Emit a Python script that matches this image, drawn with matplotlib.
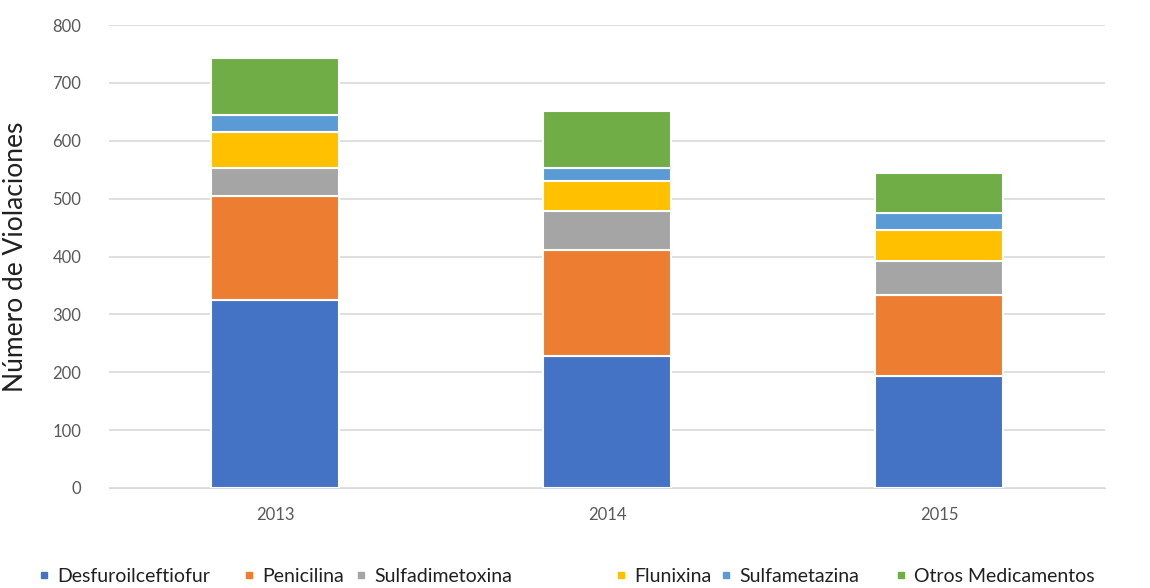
import numpy as np
import matplotlib
matplotlib.use('Agg')
import matplotlib.pyplot as plt
from matplotlib.lines import Line2D

plt.rcParams['font.family'] = ['Lato', 'DejaVu Sans']

years = ['2013', '2014', '2015']
series = ['Desfuroilceftiofur', 'Penicilina', 'Sulfadimetoxina',
          'Flunixina', 'Sulfametazina', 'Otros Medicamentos']
desfuroil = [325, 228, 194]
penicilina = [180, 184, 139]
sulfadim = [48, 66, 60]
flunixina = [62, 52, 52]
sulfamet = [30, 23, 30]
otros = [98, 99, 69]
colors = ['#4472C4', '#ED7D31', '#A5A5A5', '#FFC000', '#5B9BD5', '#70AD47']

values = [desfuroil, penicilina, sulfadim, flunixina, sulfamet, otros]

W, H = 1150, 588
fig = plt.figure(figsize=(W / 100, H / 100), dpi=100)
ax = fig.add_axes([109 / W, 1 - 488 / H, 996 / W, 463 / H])

x = np.arange(len(years))
bottom = np.zeros(len(years))
for vals, c, name in zip(values, colors, series):
    ax.bar(x, vals, 0.385, bottom=bottom, color=c, edgecolor='white',
           linewidth=1.5, label=name, zorder=3)
    bottom += np.array(vals)

ax.set_xlim(-0.5, 2.5)
ax.set_ylim(0, 800)
ax.set_yticks(range(0, 801, 100))
ax.set_xticks(x)
ax.set_xticklabels(years)
ax.grid(True, axis='y', color='#D9D9D9', lw=1.2, zorder=0)
for s in ['top', 'right', 'left']:
    ax.spines[s].set_visible(False)
ax.spines['bottom'].set_color('#D9D9D9')
ax.tick_params(axis='both', length=0, labelsize=12, labelcolor='#595959')
ax.tick_params(axis='y', pad=20)
ax.tick_params(axis='x', pad=14)
ax.set_ylabel('Número de Violaciones', fontsize=19, color='#202020')
ax.yaxis.set_label_coords(-81 / 996, 0.5)

# legend entries placed individually (uneven spacing as in the original)
leg_x = [36, 241, 353, 613, 718, 893]
for c, name, lx in zip(colors, series, leg_x):
    h = Line2D([], [], marker='s', ls='', color=c, markersize=5)
    fig.legend([h], [name], loc='center left', frameon=False,
               prop={'size': 14}, labelcolor='#202020',
               bbox_to_anchor=(lx / W, 1 - 576 / H), handletextpad=0.3,
               handlelength=0.8, borderpad=0, borderaxespad=0)

fig.savefig('out.png', dpi=100)
